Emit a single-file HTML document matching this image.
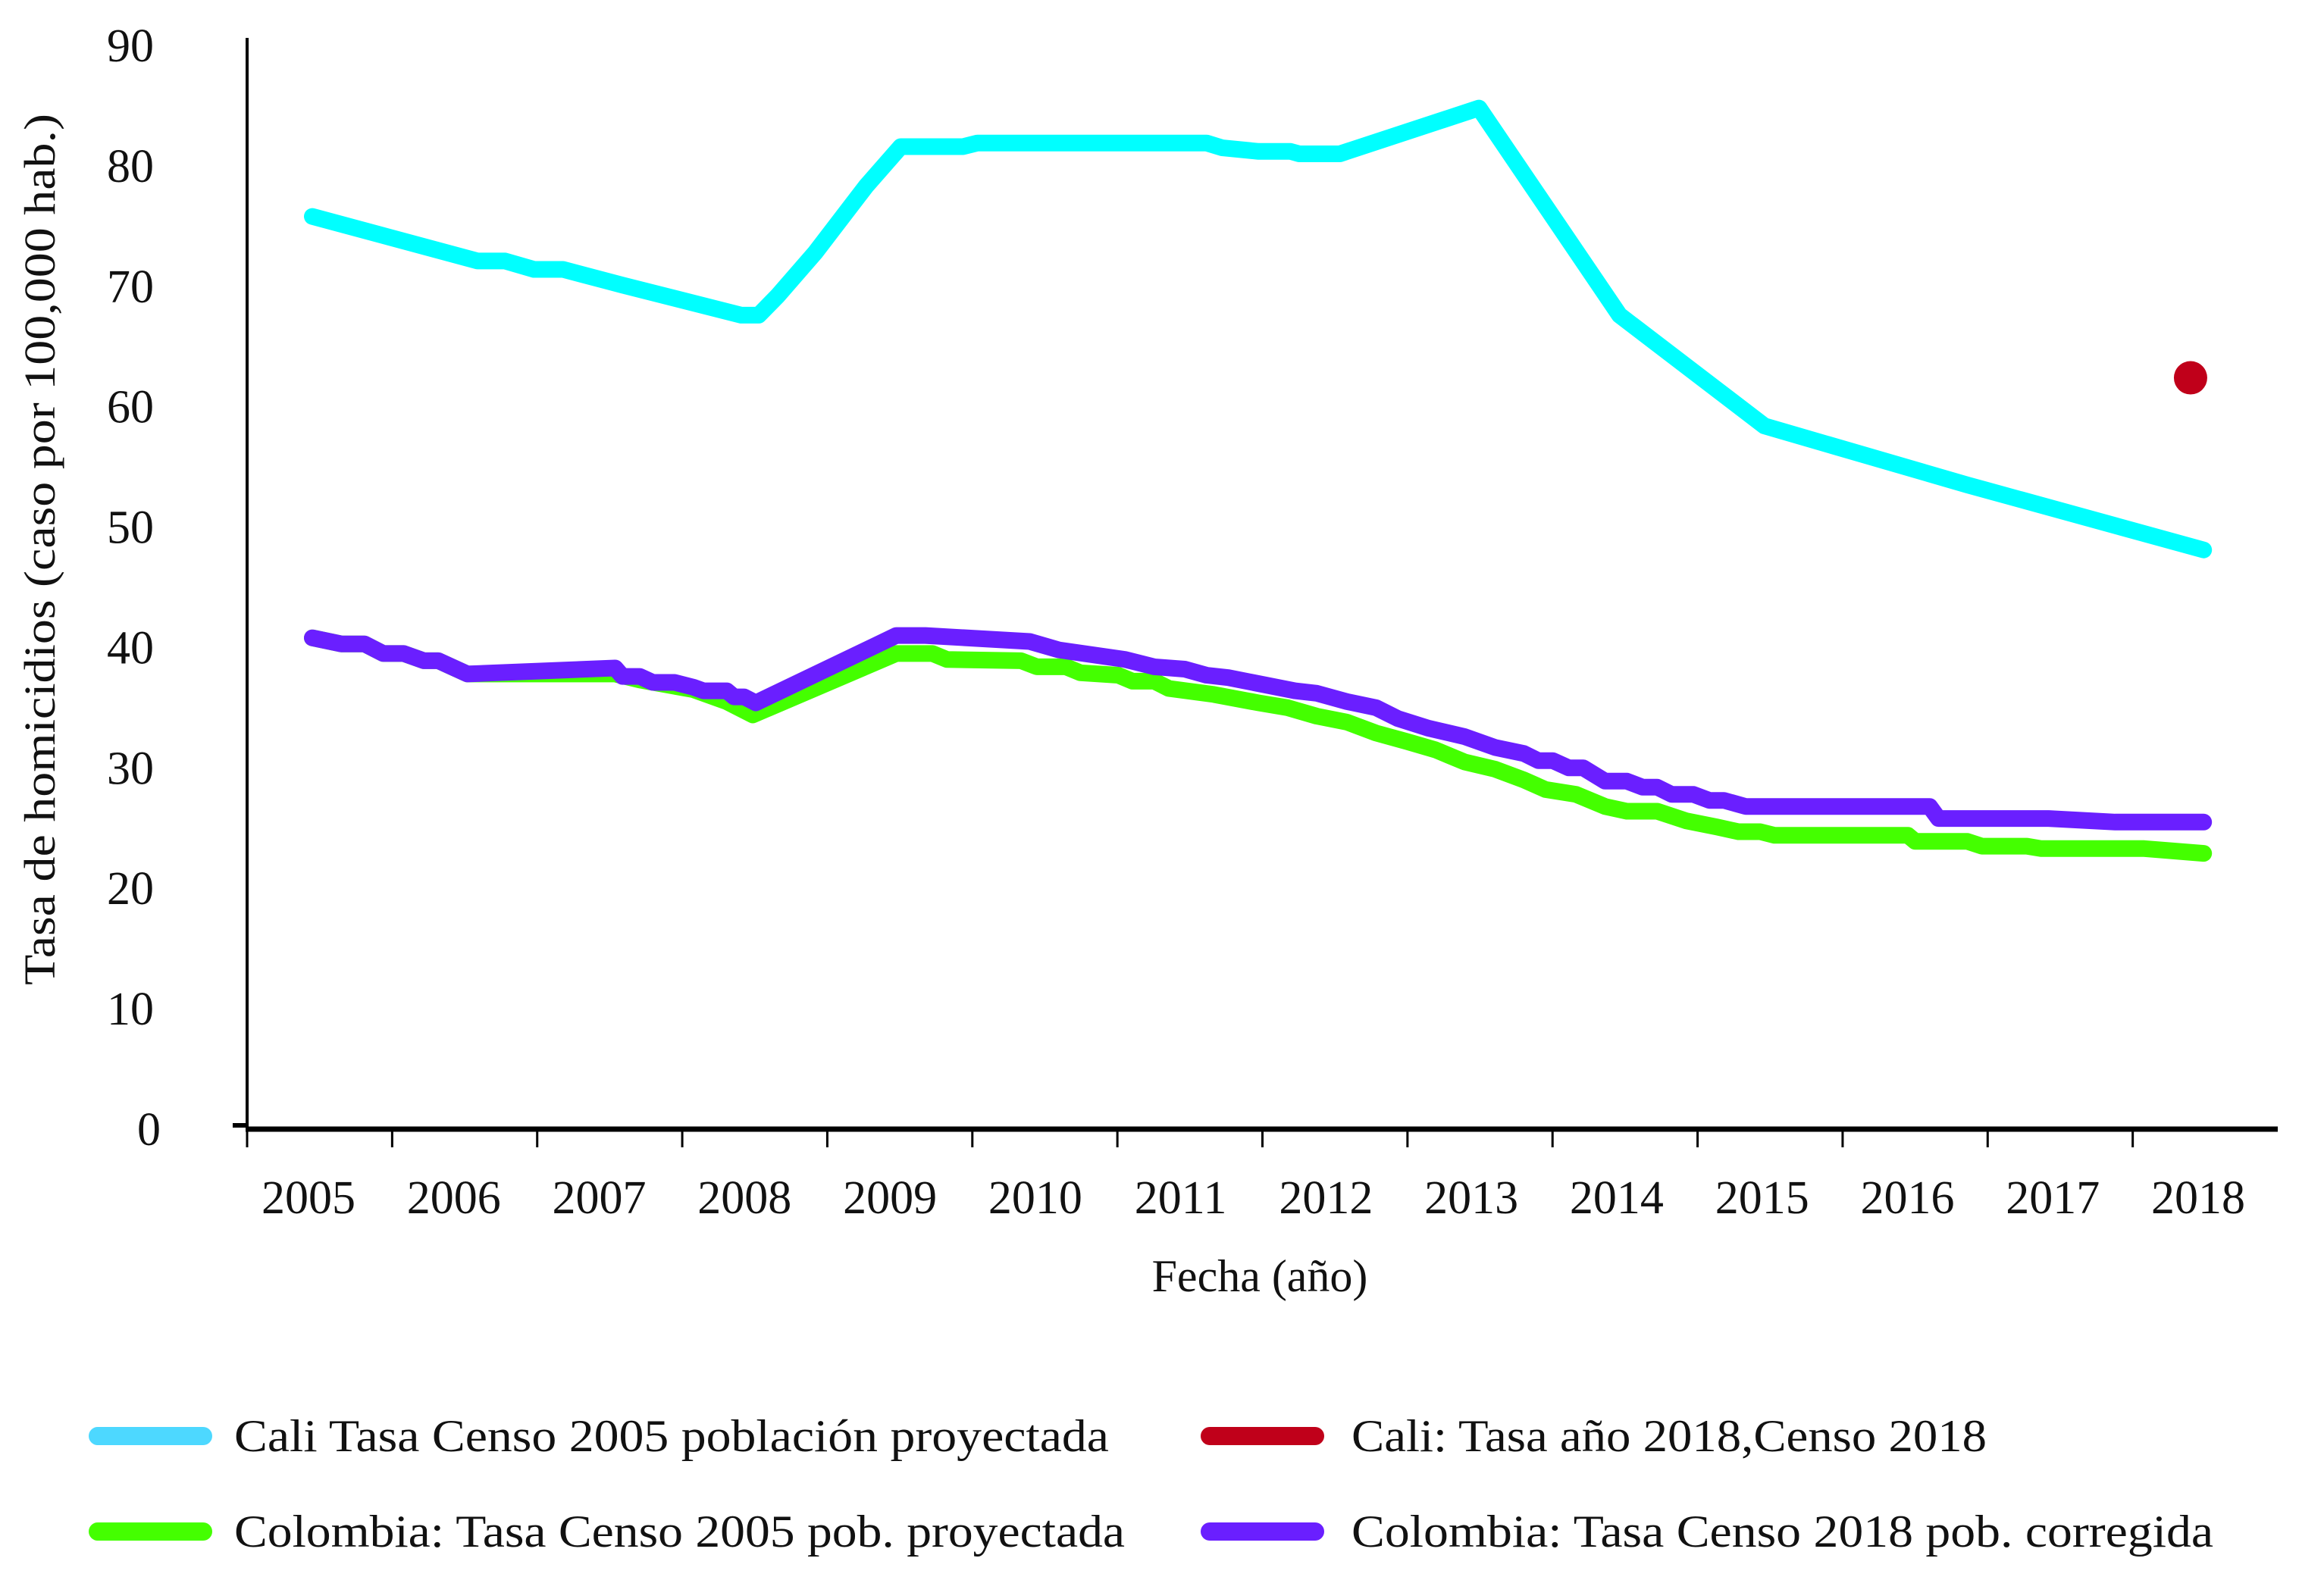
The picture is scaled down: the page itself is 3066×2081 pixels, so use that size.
<!DOCTYPE html>
<html><head><meta charset="utf-8"><style>
html,body{margin:0;padding:0;background:#fff;}
svg{display:block;font-family:"Liberation Serif",serif;}
</style></head><body>
<svg id="chart" width="3066" height="2081" viewBox="0 0 3066 2081" xmlns="http://www.w3.org/2000/svg">
<rect width="3066" height="2081" fill="#fff"/>
<g id="axes"></g>
<g id="series"></g>
<text transform="translate(72,725) rotate(-90)" text-anchor="middle" font-size="58" fill="#111" textLength="1150" lengthAdjust="spacingAndGlyphs">Tasa de homicidios (caso por 100,000 hab.)</text>
<text x="1662" y="1704" text-anchor="middle" font-size="60" fill="#111">Fecha (año)</text>
<g>
 <g>
  <rect x="117" y="1883" width="163" height="24" rx="12" fill="#4dd8ff"/>
  <text x="309" y="1915" font-size="60" fill="#111" textLength="1154" lengthAdjust="spacingAndGlyphs">Cali Tasa Censo 2005 población proyectada</text>
 </g>
 <g>
  <rect x="1584" y="1883" width="163" height="24" rx="12" fill="#c0001a"/>
  <text x="1783" y="1915" font-size="60" fill="#111" textLength="838" lengthAdjust="spacingAndGlyphs">Cali: Tasa año 2018,Censo 2018</text>
 </g>
 <g>
  <rect x="117" y="2009" width="163" height="24" rx="12" fill="#44ff00"/>
  <text x="309" y="2041" font-size="60" fill="#111" textLength="1175" lengthAdjust="spacingAndGlyphs">Colombia: Tasa Censo 2005 pob. proyectada</text>
 </g>
 <g>
  <rect x="1584" y="2009" width="163" height="24" rx="12" fill="#6a1fff"/>
  <text x="1783" y="2041" font-size="60" fill="#111" textLength="1137" lengthAdjust="spacingAndGlyphs">Colombia: Tasa Censo 2018 pob. corregida</text>
 </g>
</g>
</svg>
<script>
const yTicks=[0,10,20,30,40,50,60,70,80,90];
const xLabels=["2005","2006","2007","2008","2009","2010","2011","2012","2013","2014","2015","2016","2017","2018"];
const caliYears=[2005.02,2006.16,2006.35,2006.55,2006.75,2007.16,2007.98,2008.10,2008.23,2008.49,2008.84,2009.08,2009.51,2009.61,2011.19,2011.30,2011.55,2011.77,2011.83,2012.11,2013.07,2014.04,2015.04,2016.44,2018.07];
const caliValues=[75.8,72.1,72.1,71.4,71.4,70.1,67.6,67.6,69.2,72.8,78.3,81.6,81.6,81.9,81.9,81.5,81.2,81.2,81.0,81.0,84.8,67.6,58.4,53.5,48.1];
const cali2018Year=[2017.98];
const cali2018Value=[62.4];
const colPurpleYears=[2005.02,2005.22,2005.38,2005.51,2005.65,2005.79,2005.89,2006.09,2007.11,2007.16,2007.28,2007.37,2007.52,2007.65,2007.72,2007.88,2007.93,2008.00,2008.08,2009.05,2009.25,2009.97,2010.17,2010.63,2010.83,2011.04,2011.19,2011.34,2011.80,2011.95,2012.16,2012.36,2012.51,2012.72,2012.97,2013.18,2013.38,2013.48,2013.58,2013.69,2013.79,2013.94,2014.09,2014.20,2014.30,2014.40,2014.55,2014.66,2014.76,2014.91,2016.18,2016.24,2017.00,2017.46,2018.07];
const colPurpleValues=[40.8,40.3,40.3,39.5,39.5,38.9,38.9,37.8,38.3,37.6,37.6,37.1,37.1,36.7,36.4,36.4,35.9,35.9,35.4,41.0,41.0,40.5,39.8,39.0,38.4,38.2,37.7,37.5,36.4,36.2,35.5,35.0,34.1,33.3,32.6,31.7,31.2,30.6,30.6,30.0,30.0,28.9,28.9,28.4,28.4,27.8,27.8,27.3,27.3,26.8,26.8,25.8,25.8,25.5,25.5];
const colGreenYears=[2005.02,2005.22,2005.38,2005.51,2005.65,2005.79,2005.89,2006.09,2007.11,2007.28,2007.65,2007.88,2008.06,2009.05,2009.30,2009.40,2009.91,2010.02,2010.22,2010.32,2010.58,2010.68,2010.83,2010.93,2011.24,2011.55,2011.75,2011.95,2012.16,2012.36,2012.57,2012.77,2012.97,2013.18,2013.38,2013.53,2013.74,2013.94,2014.09,2014.30,2014.50,2014.71,2014.86,2015.01,2015.11,2016.03,2016.08,2016.44,2016.54,2016.85,2016.95,2017.66,2018.07];
const colGreenValues=[40.8,40.3,40.3,39.5,39.5,38.9,38.9,37.8,37.8,37.3,36.5,35.5,34.4,39.5,39.5,39.0,38.9,38.4,38.4,37.9,37.7,37.2,37.2,36.6,36.1,35.4,35.0,34.3,33.8,32.9,32.2,31.5,30.5,29.9,29.0,28.2,27.8,26.8,26.4,26.4,25.6,25.1,24.7,24.7,24.4,24.4,23.9,23.9,23.5,23.5,23.3,23.3,22.9];

const NS="http://www.w3.org/2000/svg";
const X0=326,X1=3005,Y0=1490,Y90=60;
function yScale(v){return Y0-(v/90)*(Y0-Y90);}
function xScale(yr){return 412+(yr-2005.02)*191.2;}
function mk(tag,attrs,parent){const e=document.createElementNS(NS,tag);for(const k in attrs)e.setAttribute(k,attrs[k]);parent.appendChild(e);return e;}
const axes=document.getElementById('axes');
const yAxis=mk('line',{x1:X0,y1:50,x2:X0,y2:Y0,stroke:'#000','stroke-width':4},axes);


const xAxis=mk('line',{x1:X0-2,y1:Y0,x2:X1,y2:Y0,stroke:'#000','stroke-width':7},axes);


const zt=mk('line',{x1:307,y1:Y0-5,x2:X0,y2:Y0-5,stroke:'#000','stroke-width':6},axes);


yTicks.forEach(v=>{
  const t=mk('text',{x:v===0?212:203,y:yScale(v)+21,'text-anchor':'end','font-size':62,fill:'#111'},axes);
  t.textContent=v;
  
  
});
const slot=(X1-X0)/14;
xLabels.forEach((lab,i)=>{
  const tk=mk('line',{x1:X0+i*slot,y1:Y0,x2:X0+i*slot,y2:Y0+24,stroke:'#000','stroke-width':3},axes);
  
  
  const t=mk('text',{x:407+i*(2900-407)/13,y:1601,'text-anchor':'middle','font-size':62,fill:'#111'},axes);
  t.textContent=lab;
  
  
});
const series=document.getElementById('series');
function line(xs,vs,color,name){
  const d=xs.map((yr,i)=>(i?'L':'M')+xScale(yr).toFixed(1)+' '+yScale(vs[i]).toFixed(1)).join(' ');
  const p=mk('path',{d:d,fill:'none',stroke:color,'stroke-width':22,'stroke-linejoin':'round','stroke-linecap':'round'},series);
  
  
}
line(caliYears,caliValues,'#00ffff','cali-2005-line');
line(colGreenYears,colGreenValues,'#44ff00','colombia-2005-line');
line(colPurpleYears,colPurpleValues,'#6a1fff','colombia-2018-line');
cali2018Year.forEach((yr,i)=>{
  const c=mk('circle',{cx:xScale(yr),cy:yScale(cali2018Value[i]),r:22,fill:'#c0001a'},series);
  
  
});
</script>
</body></html>
